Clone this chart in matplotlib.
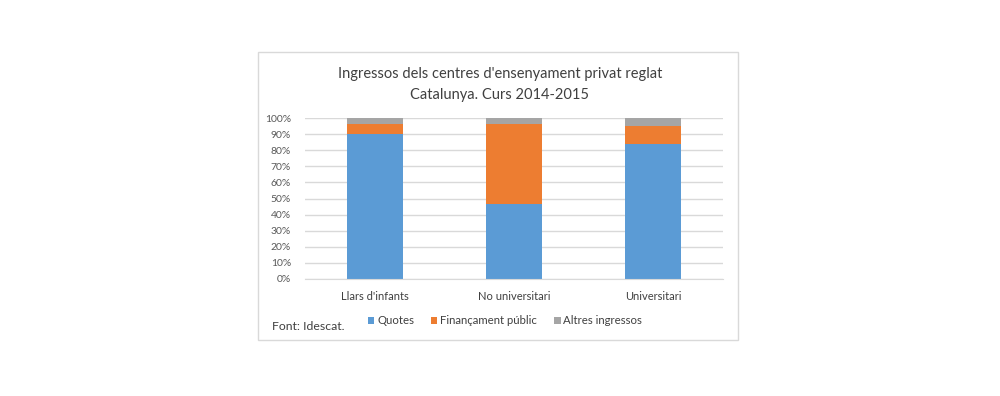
import numpy as np
import matplotlib.pyplot as plt
from matplotlib.patches import Rectangle, Patch

plt.rcParams['font.family'] = ['Lato', 'DejaVu Sans']

# Data (shares of income, %)
categories = ["Llars d'infants", "No universitari", "Universitari"]
quotes = [90.0, 46.4, 83.9]
financament = [6.3, 49.9, 11.1]
altres = [3.7, 3.7, 5.0]
series_names = ["Quotes", "Finançament públic", "Altres ingressos"]
colors = ["#5B9BD5", "#ED7D31", "#A5A5A5"]

W, H = 1000, 396
fig = plt.figure(figsize=(W / 100, H / 100), dpi=100)

# chart frame
fig.patches.append(Rectangle((258 / W, 1 - 340 / H), 480 / W, 288 / H,
                             transform=fig.transFigure, fill=False,
                             edgecolor="#D9D9D9", linewidth=1))

ax = fig.add_axes([305 / W, 1 - 279 / H, 418 / W, 161 / H])

x = np.arange(len(categories))
q = np.array(quotes) / 100
f = np.array(financament) / 100
a = np.array(altres) / 100
ax.bar(x, q, width=0.4, color=colors[0], zorder=2)
ax.bar(x, f, width=0.4, bottom=q, color=colors[1], zorder=2)
ax.bar(x, a, width=0.4, bottom=q + f, color=colors[2], zorder=2)

ax.set_xlim(-0.5, len(categories) - 0.5)
ax.set_ylim(0, 1)
ax.set_yticks(np.arange(0, 1.01, 0.1))
ax.set_yticklabels([f"{int(round(v * 100))}%" for v in np.arange(0, 1.01, 0.1)])
ax.set_xticks(x)
ax.set_xticklabels(categories)
ax.yaxis.grid(True, color="#D9D9D9", linewidth=1, zorder=0)
ax.set_axisbelow(True)
for s in ax.spines.values():
    s.set_visible(False)
ax.spines['bottom'].set_visible(True)
ax.spines['bottom'].set_color("#D9D9D9")
ax.tick_params(axis='both', length=0, colors="#595959", labelsize=7.5)
ax.tick_params(axis='x', pad=9, labelcolor="#404040", labelsize=8)
ax.tick_params(axis='y', pad=10)

fig.text(500 / W, 1 - 74 / H, "Ingressos dels centres d'ensenyament privat reglat",
         ha='center', va='center', fontsize=10.5, color="#404040")
fig.text(500 / W, 1 - 95 / H, "Catalunya. Curs 2014-2015",
         ha='center', va='center', fontsize=10.5, color="#404040")

fig.text(272 / W, 1 - 326 / H, "Font: Idescat.", ha='left', va='center',
         fontsize=8.8, color="#404040")

handles = [Patch(facecolor=c) for c in colors]
fig.legend(handles, series_names, loc='center left',
           bbox_to_anchor=(368 / W, 1 - 321 / H), ncol=3, frameon=False,
           handlelength=0.55, handleheight=0.55, handletextpad=0.25,
           columnspacing=1.5, fontsize=8.2, labelcolor="#404040",
           borderaxespad=0, borderpad=0)

fig.savefig("out.png", dpi=100)
